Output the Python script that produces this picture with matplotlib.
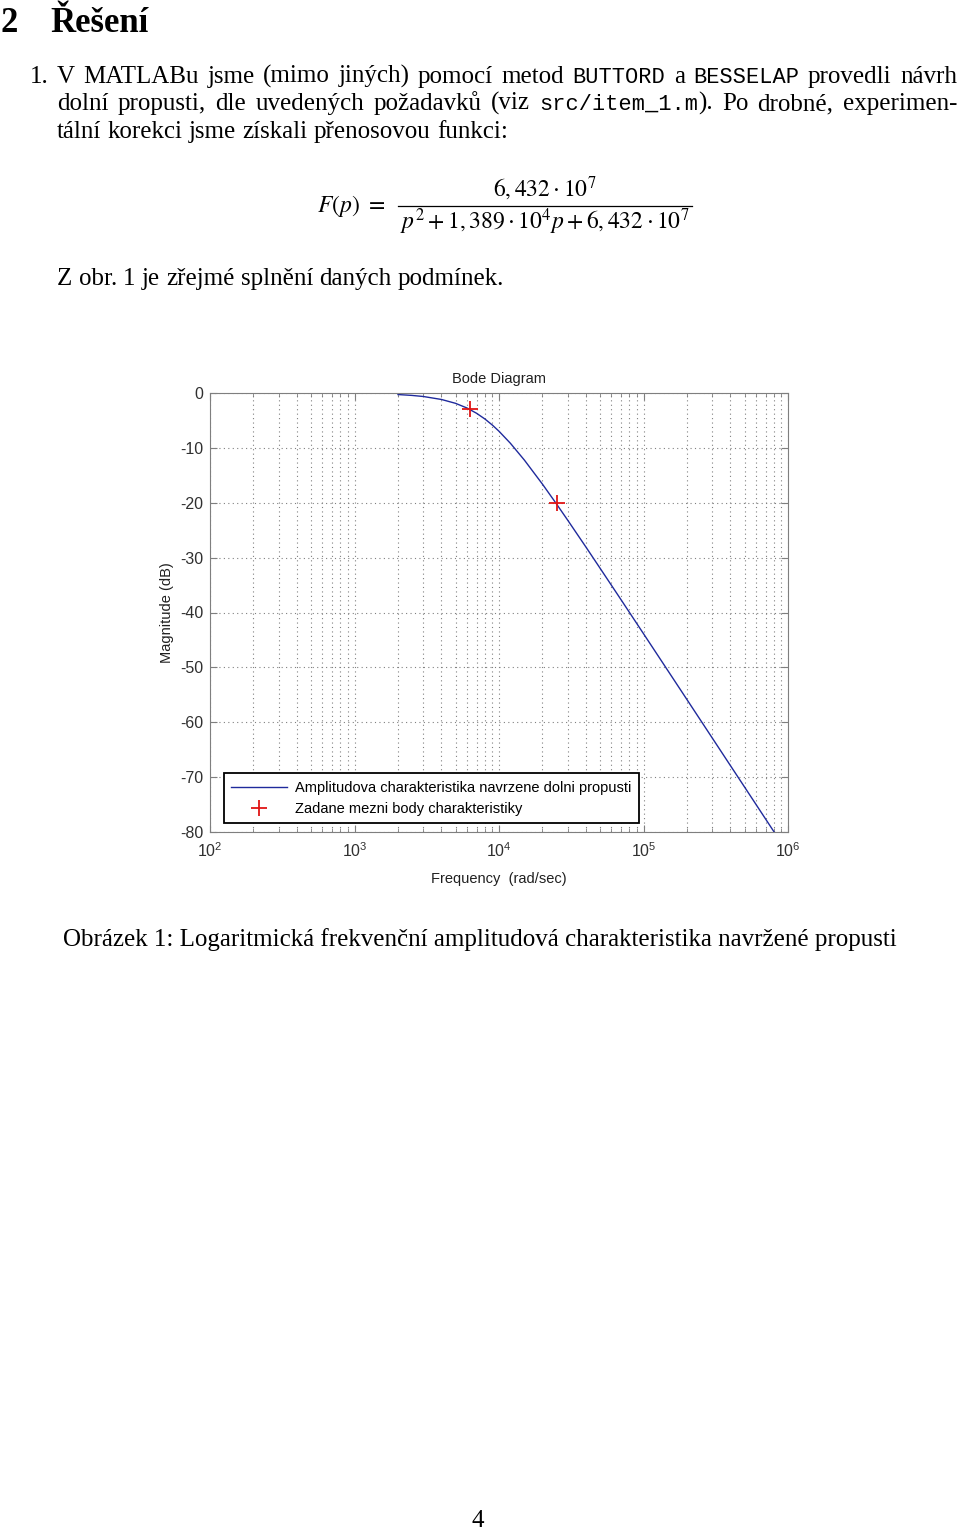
import matplotlib
matplotlib.use('Agg')
import matplotlib.pyplot as plt
from matplotlib.transforms import IdentityTransform
from matplotlib.lines import Line2D

W, H = 960, 1529

# Bode plot data (rad/s, dB)
freq = [2000, 2500, 3000, 4000, 5000, 6000, 7000, 8000, 9000, 10000, 12000,
        15000, 20000, 25000, 30000, 40000, 50000, 70000, 100000, 150000,
        200000, 300000, 400000, 500000, 600000, 700000, 800000]
mag_db = [-0.28, -0.44, -0.64, -1.18, -1.88, -2.73, -3.70, -4.75, -5.85, -6.97, -9.17,
          -12.24, -16.62, -20.22, -23.24, -28.09, -31.91, -37.69, -43.86, -50.89,
          -55.88, -62.92, -67.92, -71.79, -74.96, -77.64, -79.96]
mark_freq = [6283, 25133]
mark_db = [-3, -20]
y_ticks = [0, -10, -20, -30, -40, -50, -60, -70, -80]
legend_labels = ['Amplitudova charakteristika navrzene dolni propusti',
                 'Zadane mezni body charakteristiky']

# page text
heading_num = '2'
heading = 'Řešení'
item_num = '1.'
para = ['V MATLABu jsme (mimo jiných) pomocí metod `BUTTORD` a `BESSELAP` provedli návrh',
        'dolní propusti, dle uvedených požadavků (viz `src/item_1.m`). Po drobné, experimen-',
        'tální korekci jsme získali přenosovou funkci:']
after = 'Z obr. 1 je zřejmé splnění daných podmínek.'
caption = 'Obrázek 1: Logaritmická frekvenční amplitudová charakteristika navržené propusti'
page_no = '4'

plt.rcParams['font.family'] = 'Liberation Sans'
plt.rcParams['axes.unicode_minus'] = False

SERIF = 'Liberation Serif'
MONO = 'Liberation Mono'
BODY = 18

fig = plt.figure(figsize=(9.6, 15.29), dpi=100)
r = fig.canvas.get_renderer()


def put(x, y, s, **kw):
    # x from left, y = baseline from top, both in pixels
    return fig.text(x, H - y, s, transform=IdentityTransform(), va='baseline', **kw)


def width(t):
    return t.get_window_extent(renderer=r).width


def draw_line(line, x0, y, x1=None, size=BODY):
    items = []
    for w in line.split(' '):
        segs = []
        for i, p in enumerate(w.split('`')):
            if not p:
                continue
            fam = MONO if i % 2 else SERIF
            t = put(0, y, p, family=fam, fontsize=size if fam == SERIF else size * 0.88)
            segs.append((t, width(t)))
        items.append(segs)
    wsum = [sum(wd for _, wd in segs) for segs in items]
    if x1 is None:
        a = put(0, y, 'a a', family=SERIF, fontsize=size)
        b = put(0, y, 'aa', family=SERIF, fontsize=size)
        gap = width(a) - width(b)
        a.remove(); b.remove()
    else:
        gap = (x1 - x0 - sum(wsum)) / (len(items) - 1)
    x = x0
    for segs, ws in zip(items, wsum):
        xx = x
        for t, wd in segs:
            t.set_position((xx, H - y))
            xx += wd
        x += ws + gap


# heading
put(0, 32, heading_num, family=SERIF, fontsize=25, weight='bold')
put(50, 32, heading, family=SERIF, fontsize=25, weight='bold')

# paragraph
put(30, 83, item_num, family=SERIF, fontsize=BODY)
draw_line(para[0], 57, 83, 957)
draw_line(para[1], 57, 110, 957)
draw_line(para[2], 57, 138)

# formula
FS = 17
put(317, 212, r'$F(p)\ =$', fontsize=FS, math_fontfamily='stix')
num = put(545, 197, r'$6,432\cdot 10^{7}$', fontsize=FS, math_fontfamily='stix', ha='center')
den = put(545, 229, r'$p^{2}+1,389\cdot 10^{4}p+6,432\cdot 10^{7}$', fontsize=FS,
          math_fontfamily='stix', ha='center')
dw = width(den)
fig.add_artist(Line2D([545 - dw / 2 - 2, 545 + dw / 2 + 2], [H - 206, H - 206],
                      transform=IdentityTransform(), color='black', lw=0.9))

draw_line(after, 57, 285)

# Bode diagram
ax = fig.add_axes([210 / W, 1 - 832 / H, 578 / W, 439 / H])
ax.semilogx(freq, mag_db, color='#1f2a9c', lw=1.0, label=legend_labels[0])
ax.plot(mark_freq, mark_db, '+', color='#e01515', ms=11, mew=1.3, label=legend_labels[1])
ax.set_xlim(1e2, 1e6)
ax.set_ylim(-80, 0)
ax.set_yticks(y_ticks)
ax.grid(True, which='both', axis='x', ls=(0, (1, 3)), color='#808080', lw=0.8)
ax.grid(True, which='major', axis='y', ls=(0, (1, 3)), color='#808080', lw=0.8)
ax.tick_params(which='both', direction='in', top=True, right=True,
               colors='#7f7f7f', labelcolor='#303030', labelsize=11.5)
ax.tick_params(which='major', length=5, pad=5)
ax.tick_params(axis='x', which='major', pad=7)
ax.tick_params(which='minor', length=3)
for s in ax.spines.values():
    s.set_color('#7f7f7f')
ax.set_title('Bode Diagram', fontsize=10.5, pad=7, color='#202020')
ax.set_xlabel('Frequency  (rad/sec)', fontsize=10.5, color='#202020', labelpad=8)
ax.set_ylabel('Magnitude (dB)', fontsize=10.5, color='#202020', labelpad=4)
leg = ax.legend(loc='lower left', bbox_to_anchor=(0.024, 0.02), borderaxespad=0,
                fancybox=False, edgecolor='black', framealpha=1, fontsize=10.5,
                handlelength=3.8, handletextpad=0.6, borderpad=0.5, labelspacing=0.5)
leg.get_frame().set_linewidth(1.3)

# caption and page number
t = put(0, 946, caption, family=SERIF, fontsize=BODY)
t.set_position(((W - width(t)) / 2, H - 946))
put(478, 1527, page_no, family=SERIF, fontsize=BODY, ha='center')

fig.savefig('out.png', dpi=100, facecolor='white')
